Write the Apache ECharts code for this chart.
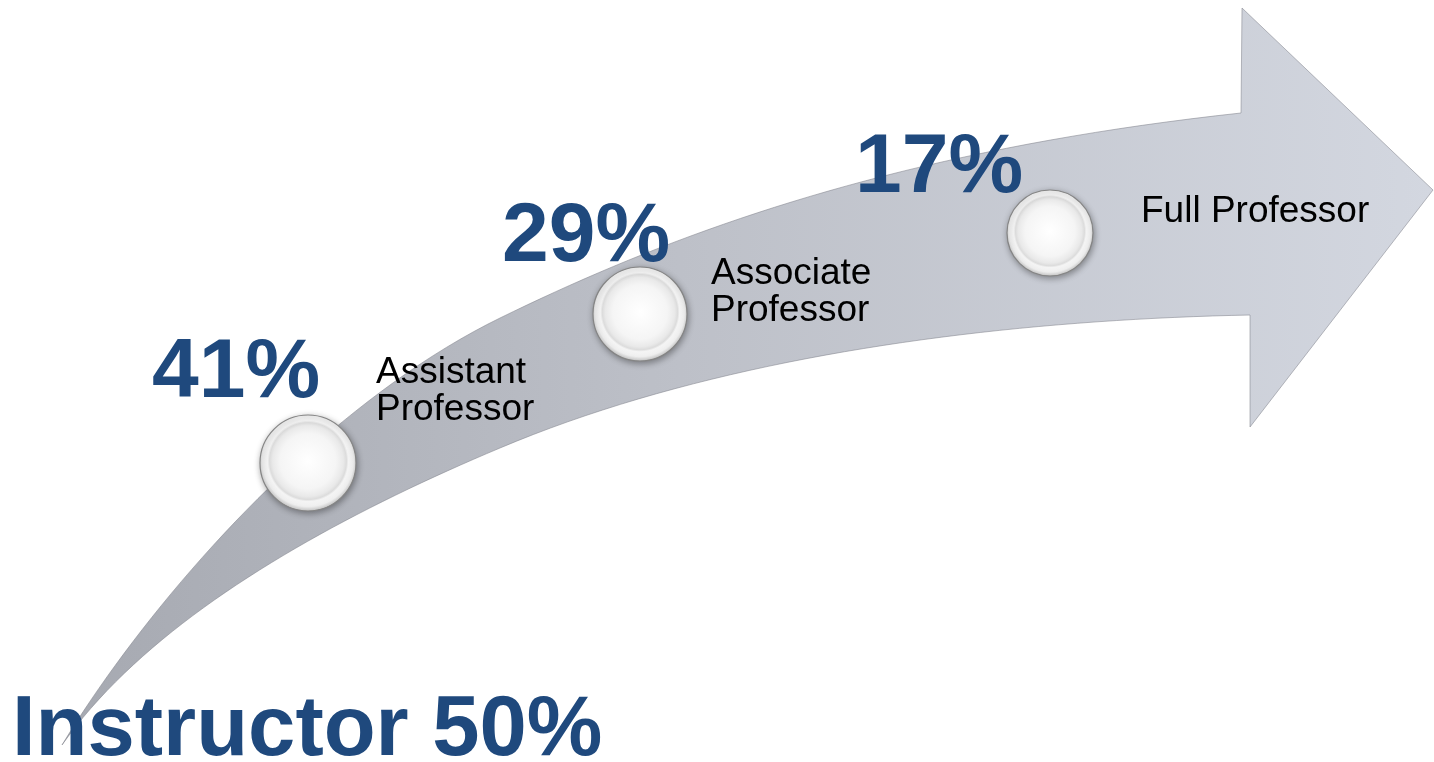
<!DOCTYPE html>
<html>
<head>
<meta charset="utf-8">
<script src="https://cdn.jsdelivr.net/npm/echarts@6/dist/echarts.min.js"></script>
<style>
  html, body { margin: 0; padding: 0; background: #ffffff; }
  #chart { width: 1434px; height: 762px; }
</style>
</head>
<body>
<div id="chart"></div>
<script>
// ---- data ----
const categories = ['Instructor', 'Assistant Professor', 'Associate Professor', 'Full Professor'];
const percents = [50, 41, 29, 17];

// ---- layout (pixel-space positions on hidden axes) ----
const circlePos = [null, [308, 463], [640, 314], [1050, 233]];
const circleSize = [0, 96, 94, 86];
const pctPos = [[12, 732], [152, 374], [502, 238], [855, 169]];
const pctFont = [85, 84, 84, 84];
const namePos = [null, [376, 391], [711, 292], [1141, 212]];
const nameWrap = [false, true, true, false];

const BLUE = '#1f497d';

const chart = echarts.init(document.getElementById('chart'));

// arrow outline (decorative shape): cubic segments sampled into a polygon
function cubic(p0, p1, p2, p3, n, out) {
  for (let k = 1; k <= n; k++) {
    const t = k / n, u = 1 - t;
    out.push([
      u*u*u*p0[0] + 3*u*u*t*p1[0] + 3*u*t*t*p2[0] + t*t*t*p3[0],
      u*u*u*p0[1] + 3*u*u*t*p1[1] + 3*u*t*t*p2[1] + t*t*t*p3[1]
    ]);
  }
}
const arrowPts = [[62, 745]];
cubic([62, 745], [150, 600], [320, 406], [500, 318], 40, arrowPts);
cubic([500, 318], [680, 230], [900, 150], [1241, 113], 40, arrowPts);
arrowPts.push([1242, 8], [1433, 190], [1250, 427], [1250, 315]);
cubic([1250, 315], [1000, 320], [720, 355], [500, 448], 40, arrowPts);
cubic([500, 448], [324, 522], [150, 620], [62, 745], 40, arrowPts);

const graphics = [{
  type: 'polygon',
  z: 0,
  shape: { points: arrowPts },
  style: {
    fill: {
      type: 'linear', x: 0, y: 0, x2: 1, y2: 0,
      colorStops: [
        { offset: 0, color: '#a6a9b1' },
        { offset: 0.45, color: '#bdc0c8' },
        { offset: 1, color: '#d3d7e0' }
      ]
    },
    stroke: 'rgba(130,132,140,0.55)',
    lineWidth: 1
  }
}];

categories.forEach(function (cat, i) {
  const isFirst = i === 0;
  graphics.push({
    type: 'text',
    z: 100,
    style: {
      text: isFirst ? (cat + ' ' + percents[i] + '%') : (percents[i] + '%'),
      x: pctPos[i][0],
      y: pctPos[i][1],
      fill: BLUE,
      font: 'bold ' + pctFont[i] + 'px "Liberation Sans", Arial, sans-serif',
      align: 'left',
      verticalAlign: 'middle'
    }
  });
  if (namePos[i]) {
    graphics.push({
      type: 'text',
      z: 100,
      style: {
        text: nameWrap[i] ? cat.replace(' ', '\n') : cat,
        x: namePos[i][0],
        y: namePos[i][1],
        fill: '#000000',
        font: '37px "Liberation Sans", Arial, sans-serif',
        lineHeight: 37,
        align: 'left',
        verticalAlign: 'middle'
      }
    });
  }
});

const circleData = [];
categories.forEach(function (cat, i) {
  if (circlePos[i]) {
    circleData.push({ name: cat, value: [circlePos[i][0], circlePos[i][1], percents[i]], symbolSize: circleSize[i] });
  }
});

chart.setOption({
  animation: false,
  backgroundColor: '#ffffff',
  grid: { left: 0, right: 0, top: 0, bottom: 0 },
  xAxis: { type: 'value', min: 0, max: 1434, show: false },
  yAxis: { type: 'value', min: 0, max: 762, inverse: true, show: false },
  graphic: graphics,
  series: [{
    type: 'scatter',
    z: 5,
    data: circleData,
    symbol: 'circle',
    itemStyle: {
      color: {
        type: 'radial', x: 0.5, y: 0.48, r: 0.52,
        colorStops: [
          { offset: 0, color: '#ffffff' },
          { offset: 0.55, color: '#f5f5f5' },
          { offset: 0.7, color: '#e9e9e9' },
          { offset: 0.76, color: '#dcdcdc' },
          { offset: 0.8, color: '#f4f4f4' },
          { offset: 0.9, color: '#f0f0f0' },
          { offset: 0.97, color: '#d2d2d2' },
          { offset: 1, color: '#a8a8a8' }
        ]
      },
      borderColor: '#858585',
      borderWidth: 1.2,
      shadowColor: 'rgba(0,0,0,0.35)',
      shadowBlur: 6,
      shadowOffsetX: 1,
      shadowOffsetY: 2,
      opacity: 1
    },
    label: { show: false },
    emphasis: { disabled: true }
  }]
});
</script>
</body>
</html>
